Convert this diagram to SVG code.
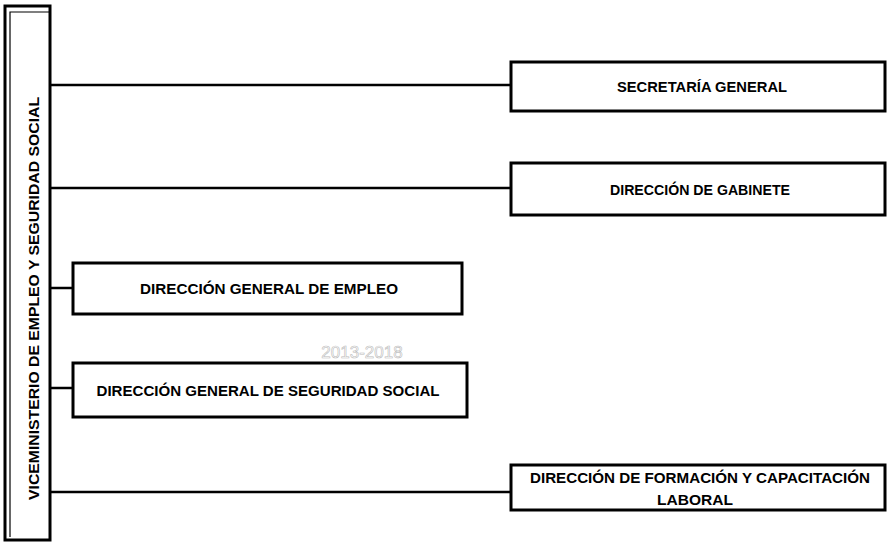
<svg xmlns="http://www.w3.org/2000/svg" width="887" height="543" viewBox="0 0 887 543">
<style>
.box{fill:#fff;stroke:#000;stroke-width:3}
.ln{stroke:#000;stroke-width:2.5;fill:none}
.t{font-family:"Liberation Sans",Arial,sans-serif;font-weight:bold;font-size:15px;fill:#000;text-anchor:middle}
.wm{font-family:"Liberation Sans",Arial,sans-serif;font-size:17px;fill:none;stroke:#bbb;stroke-width:0.6;text-anchor:middle}
</style>
<rect width="887" height="543" fill="#fff"/>
<text class="wm" x="362" y="358">2013-2018</text>
<g id="connectors">
<line class="ln" x1="50" y1="85" x2="511" y2="85"/>
<line class="ln" x1="50" y1="188" x2="511" y2="188"/>
<line class="ln" x1="50" y1="288" x2="73" y2="288"/>
<line class="ln" x1="50" y1="388" x2="73" y2="388"/>
<line class="ln" x1="50" y1="492" x2="511" y2="492"/>
</g>
<g id="viceministerio">
<rect class="box" x="5" y="6" width="45" height="534"/>
<polyline points="10,537 10,12 50,12" fill="none" stroke="#000" stroke-width="1.2"/>
<text class="t" transform="translate(39,298.5) rotate(-90)" textLength="403" lengthAdjust="spacingAndGlyphs">VICEMINISTERIO DE EMPLEO Y SEGURIDAD SOCIAL</text>
</g>
<g id="secretaria">
<rect class="box" x="511" y="62" width="374" height="49"/>
<text class="t" x="702" y="91.5" textLength="170" lengthAdjust="spacingAndGlyphs">SECRETARÍA GENERAL</text>
</g>
<g id="gabinete">
<rect class="box" x="511" y="163" width="374" height="52"/>
<text class="t" x="700" y="194.5" textLength="180" lengthAdjust="spacingAndGlyphs">DIRECCIÓN DE GABINETE</text>
</g>
<g id="empleo">
<rect class="box" x="73" y="263" width="389" height="51"/>
<text class="t" x="269" y="294" textLength="258" lengthAdjust="spacingAndGlyphs">DIRECCIÓN GENERAL DE EMPLEO</text>
</g>
<g id="seguridad">
<rect class="box" x="73" y="363" width="394" height="54"/>
<text class="t" x="268" y="395.5" textLength="343" lengthAdjust="spacingAndGlyphs">DIRECCIÓN GENERAL DE SEGURIDAD SOCIAL</text>
</g>
<g id="formacion">
<rect class="box" x="511" y="465" width="374" height="45"/>
<text class="t" x="700" y="483" textLength="340" lengthAdjust="spacingAndGlyphs">DIRECCIÓN DE FORMACIÓN Y CAPACITACIÓN</text>
<text class="t" x="695" y="504.5" textLength="76" lengthAdjust="spacingAndGlyphs">LABORAL</text>
</g>
</svg>
